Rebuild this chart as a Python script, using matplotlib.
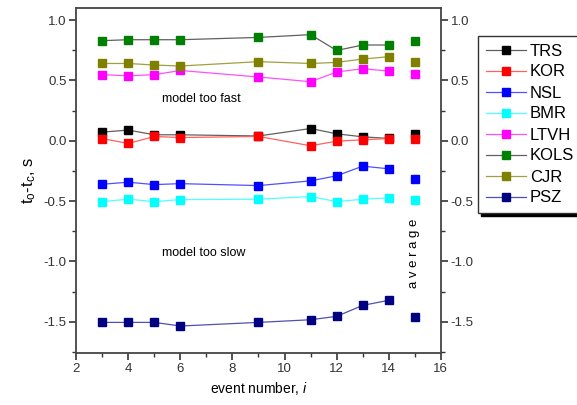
import numpy as np
import matplotlib.pyplot as plt

plt.rcParams['font.family'] = ['Liberation Sans', 'DejaVu Sans']
plt.rcParams['mathtext.fontset'] = 'custom'
plt.rcParams['mathtext.rm'] = 'Liberation Sans'
plt.rcParams['mathtext.it'] = 'Liberation Sans:italic'
plt.rcParams['axes.unicode_minus'] = False

# event numbers and the averaged column
events = [3, 4, 5, 6, 9, 11, 12, 13, 14]
avg_x = 15

names = ['TRS', 'KOR', 'NSL', 'BMR', 'LTVH', 'KOLS', 'CJR', 'PSZ']
trs = [0.072, 0.089, 0.050, 0.050, 0.040, 0.102, 0.058, 0.033, 0.020]
kor = [0.019, -0.022, 0.036, 0.027, 0.036, -0.041, -0.003, 0.008, 0.019]
nsl = [-0.360, -0.343, -0.363, -0.355, -0.371, -0.332, -0.290, -0.210, -0.232]
bmr = [-0.504, -0.484, -0.504, -0.487, -0.484, -0.462, -0.504, -0.484, -0.473]
ltvh = [0.548, 0.539, 0.548, 0.583, 0.529, 0.490, 0.570, 0.598, 0.578]
kols = [0.830, 0.838, 0.838, 0.838, 0.857, 0.880, 0.749, 0.794, 0.794]
cjr = [0.641, 0.641, 0.628, 0.620, 0.656, 0.641, 0.650, 0.678, 0.697]
psz = [-1.505, -1.505, -1.505, -1.535, -1.505, -1.483, -1.455, -1.364, -1.322]
averages = [0.060, 0.011, -0.318, -0.487, 0.556, 0.824, 0.650, -1.463]

series = [trs, kor, nsl, bmr, ltvh, kols, cjr, psz]
marker_colors = ['black', 'red', 'blue', 'cyan', 'magenta', 'green', 'olive', 'navy']
line_colors = ['#606060', '#ff6060', '#5050ff', '#50ffff', '#ff50ff', '#606060', '#a0a040', '#5050b0']

fig = plt.figure(figsize=(5.77, 4.05), dpi=100)
ax = fig.add_axes([0.132, 0.128, 0.632, 0.852])

for vals, name, mc, lc in zip(series, names, marker_colors, line_colors):
    ax.plot(events, vals, color=lc, lw=0.9, marker='s', markersize=5.5,
            markerfacecolor=mc, markeredgecolor=mc, label=name)
for avg, mc in zip(averages, marker_colors):
    ax.plot([avg_x], [avg], ls='none', marker='s', markersize=5.5,
            markerfacecolor=mc, markeredgecolor=mc)

ax.set_xlim(2, 16)
ax.set_ylim(-1.76, 1.1)
ax.set_xticks(np.arange(2, 17, 2))
ax.set_xticks(np.arange(3, 16, 2), minor=True)
ax.set_yticks([-1.5, -1.0, -0.5, 0.0, 0.5, 1.0])
ax.set_yticks(np.arange(-1.75, 1.01, 0.25), minor=True)
ax.tick_params(which='both', direction='out', labelsize=9.5, colors='#333333',
               right=True, labelright=True, top=False, pad=2)
ax.tick_params(which='major', length=5, width=1.2)
ax.tick_params(which='minor', length=3, width=1.0)
for sp in ax.spines.values():
    sp.set_color('#444444')
    sp.set_linewidth(1.3)

ax.set_xlabel(r'event number, $\mathit{i}$', fontsize=10)
ax.set_ylabel(r'$\mathregular{t_o}$-$\mathregular{t_c}$, s', fontsize=12, labelpad=4)

ax.text(6.8, 0.346, 'model too fast', fontsize=9, ha='center', va='center')
ax.text(6.9, -0.93, 'model too slow', fontsize=9, ha='center', va='center')
ax.text(14.96, -0.93, 'a v e r a g e', fontsize=9.5, rotation=90,
        ha='center', va='center')

leg = ax.legend(loc='upper left', bbox_to_anchor=(478 / 577, 1 - 36 / 405),
                bbox_transform=fig.transFigure, fontsize=12, frameon=True,
                fancybox=False, edgecolor='#333333', handlelength=2.4,
                handletextpad=0.25, labelspacing=0.36, borderpad=0.45,
                borderaxespad=0, shadow={'color': 'black', 'alpha': 1.0})
leg.get_frame().set_linewidth(1.0)

fig.savefig('out.png', dpi=100)
